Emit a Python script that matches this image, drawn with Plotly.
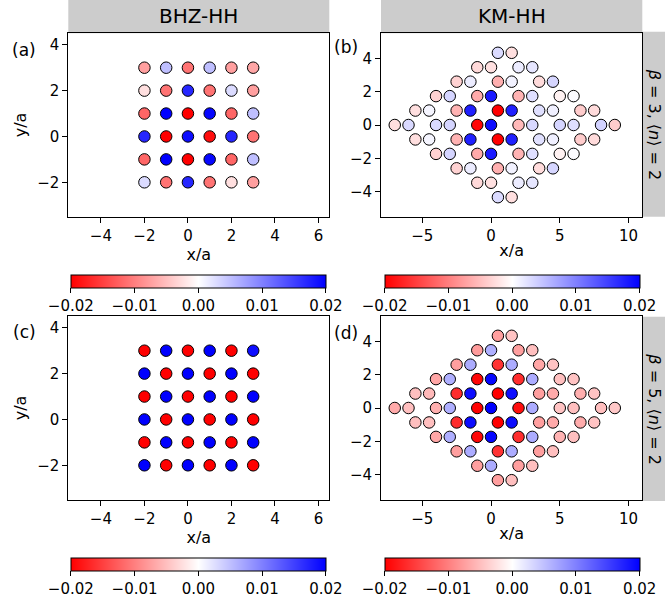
import plotly.graph_objects as go

W, H = 665, 602

# ---------------- data ----------------
# square lattice (BHZ)
sq_x = [-2, -1, 0, 1, 2, 3]
sq_y = [3, 2, 1, 0, -1, -2]

bhz_beta3 = [
    [-0.0075, 0.0050, -0.0110, 0.0050, -0.0075, -0.0070],
    [-0.0025, -0.0110, 0.0170, -0.0110, 0.0028, -0.0075],
    [-0.0120, 0.0200, -0.0200, 0.0195, -0.0120, 0.0050],
    [0.0170, -0.0200, 0.0190, -0.0190, 0.0170, -0.0110],
    [-0.0120, 0.0200, -0.0200, 0.0195, -0.0120, 0.0050],
    [0.0028, -0.0110, 0.0170, -0.0110, -0.0025, -0.0075],
]
bhz_beta5 = [
    [-0.0200, 0.0200, -0.0200, 0.0200, -0.0200, 0.0190],
    [0.0200, -0.0200, 0.0200, -0.0200, 0.0200, -0.0200],
    [-0.0200, 0.0200, -0.0200, 0.0200, -0.0200, 0.0200],
    [0.0200, -0.0200, 0.0200, -0.0200, 0.0200, -0.0200],
    [-0.0200, 0.0200, -0.0200, 0.0200, -0.0200, 0.0200],
    [0.0200, -0.0200, 0.0200, -0.0200, 0.0200, -0.0200],
]

# honeycomb lattice (KM): row heights and site x positions per row
hc_y = [4.330, 3.464, 2.598, 1.732, 0.866, 0.0, -0.866, -1.732, -2.598, -3.464, -4.330]
hc_x = [
    [0.5, 1.5],
    [-1, 0, 2, 3],
    [-2.5, -1.5, 0.5, 1.5, 3.5, 4.5],
    [-4, -3, -1, 0, 2, 3, 5, 6],
    [-5.5, -4.5, -2.5, -1.5, 0.5, 1.5, 3.5, 4.5, 6.5, 7.5],
    [-7, -6, -4, -3, -1, 0, 2, 3, 5, 6, 8, 9],
    [-5.5, -4.5, -2.5, -1.5, 0.5, 1.5, 3.5, 4.5, 6.5, 7.5],
    [-4, -3, -1, 0, 2, 3, 5, 6],
    [-2.5, -1.5, 0.5, 1.5, 3.5, 4.5],
    [-1, 0, 2, 3],
    [0.5, 1.5],
]

km_beta3 = [
    [0.0028, -0.0025],
    [-0.0030, -0.0024, 0.0015, 0.0020],
    [-0.0035, 0.0015, -0.0063, 0.0010, -0.0028, 0.0032],
    [-0.0035, 0.0033, -0.0067, 0.0180, -0.0060, 0.0025, -0.0010, 0.0003],
    [-0.0025, 0.0008, -0.0060, 0.0175, -0.0200, 0.0175, 0.0024, 0.0012, -0.0040, -0.0028],
    [-0.0025, 0.0030, 0.0030, 0.0033, -0.0195, 0.0190, -0.0055, 0.0030, 0.0033, 0.0025, 0.0035, -0.0040],
    [-0.0025, 0.0008, -0.0060, 0.0175, -0.0200, 0.0175, 0.0024, 0.0012, -0.0040, -0.0028],
    [-0.0035, 0.0033, -0.0067, 0.0180, -0.0060, 0.0025, -0.0010, 0.0003],
    [-0.0035, 0.0015, -0.0063, 0.0010, -0.0028, 0.0032],
    [-0.0030, -0.0024, 0.0015, 0.0020],
    [0.0028, -0.0025],
]
km_beta5 = [
    [-0.0075, -0.0047],
    [-0.0078, 0.0063, -0.0075, -0.0050],
    [-0.0075, 0.0065, -0.0160, 0.0065, -0.0070, -0.0047],
    [-0.0070, 0.0063, -0.0195, 0.0195, -0.0165, 0.0065, -0.0050, -0.0047],
    [-0.0050, -0.0055, -0.0165, 0.0190, -0.0200, 0.0190, -0.0075, -0.0067, -0.0063, -0.0047],
    [-0.0067, -0.0050, -0.0063, 0.0063, -0.0200, 0.0200, -0.0190, 0.0065, -0.0047, -0.0050, -0.0050, -0.0043],
    [-0.0050, -0.0050, -0.0165, 0.0190, -0.0200, 0.0190, -0.0075, -0.0067, -0.0065, -0.0047],
    [-0.0070, 0.0063, -0.0195, 0.0195, -0.0165, 0.0065, -0.0060, -0.0050],
    [-0.0075, 0.0065, -0.0160, 0.0065, -0.0075, -0.0050],
    [-0.0075, 0.0065, -0.0075, -0.0050],
    [-0.0075, -0.0050],
]

col_titles = ["BHZ-HH", "KM-HH"]
row_titles = ["<i>β</i> = 3, ⟨<i>n</i>⟩ = 2", "<i>β</i> = 5, ⟨<i>n</i>⟩ = 2"]
panel_labels = ["(a)", "(b)", "(c)", "(d)"]
cbar_ticks = [-0.02, -0.01, 0.00, 0.01, 0.02]
vmin, vmax = -0.02, 0.02

bwr_r = [[0.0, "rgb(255,0,0)"], [0.5, "rgb(255,255,255)"], [1.0, "rgb(0,0,255)"]]


def flatten_square(vals):
    xs, ys, cs = [], [], []
    for j, yv in enumerate(sq_y):
        for i, xv in enumerate(sq_x):
            xs.append(xv); ys.append(yv); cs.append(vals[j][i])
    return xs, ys, cs


def flatten_hc(vals):
    xs, ys, cs = [], [], []
    for j, yv in enumerate(hc_y):
        for i, xv in enumerate(hc_x[j]):
            xs.append(xv); ys.append(yv); cs.append(vals[j][i])
    return xs, ys, cs


# ---------------- layout geometry (pixels) ----------------
def px(x):
    return x / W


def py(y):
    return 1 - y / H


cols = [(68.3, 329.3), (381.0, 642.3)]
rows = [(33.3, 216.7), (316.3, 499.7)]

fig = go.Figure()

datasets = [flatten_square(bhz_beta3), flatten_hc(km_beta3),
            flatten_square(bhz_beta5), flatten_hc(km_beta5)]

font = "DejaVu Sans"
marker_size = 11.5

for k, (xs, ys, cs) in enumerate(datasets):
    n = k + 1
    sfx = "" if n == 1 else str(n)
    fig.add_trace(go.Scatter(
        x=xs, y=ys, mode="markers",
        xaxis="x" + sfx, yaxis="y" + sfx,
        marker=dict(size=marker_size, color=cs, coloraxis="coloraxis" + sfx,
                    line=dict(color="black", width=1)),
        showlegend=False, hoverinfo="x+y",
    ))

axis_common = dict(showline=True, mirror=True, linecolor="black", linewidth=1,
                   ticks="outside", ticklen=5, tickwidth=1, tickcolor="black",
                   showgrid=False, zeroline=False,
                   tickfont=dict(family=font, size=15, color="black"))

for k in range(4):
    r, c = divmod(k, 2)
    n = k + 1
    sfx = "" if n == 1 else str(n)
    xd = [px(cols[c][0]), px(cols[c][1])]
    yd = [py(rows[r][1]), py(rows[r][0])]
    if c == 0:
        xr, yr = [-5.5, 6.5], [-3.5, 4.5]
        xt, yt = [-4, -2, 0, 2, 4, 6], [-2, 0, 2, 4]
    else:
        xr, yr = [-8.0, 11.0], [-5.5, 5.5]
        xt, yt = [-5, 0, 5, 10], [-4, -2, 0, 2, 4]
    fig.layout["xaxis" + sfx] = dict(axis_common, domain=xd, range=xr, tickvals=xt,
                                     anchor="y" + sfx,
                                     title=dict(text="x/a", standoff=1,
                                                font=dict(family=font, size=16, color="black")))
    ytitle = dict(text="y/a", standoff=6,
                  font=dict(family=font, size=16, color="black")) if c == 0 else None
    ydict = dict(axis_common, domain=yd, range=yr, tickvals=yt, anchor="x" + sfx)
    if ytitle:
        ydict["title"] = ytitle
    fig.layout["yaxis" + sfx] = ydict

    # colorbar
    cb_top = [275.0, 558.0][r]
    cb_x = [(71.0 + 325.7) / 2, (384.3 + 640.0) / 2][c]
    fig.layout["coloraxis" + sfx] = dict(
        cmin=vmin, cmax=vmax, colorscale=bwr_r,
        colorbar=dict(orientation="h", x=px(cb_x), xanchor="center",
                      y=py(cb_top), yanchor="top",
                      len=255, lenmode="pixels", thickness=13, thicknessmode="pixels",
                      tickvals=cbar_ticks, tickformat=".2f", ticks="outside",
                      ticklen=5, tickcolor="black",
                      tickfont=dict(family=font, size=15, color="black"),
                      outlinewidth=1, outlinecolor="black", xpad=0, ypad=0,
                      borderwidth=0))

shapes = []
annotations = []
gray = "#cccccc"
# column header strips
for c in range(2):
    shapes.append(dict(type="rect", xref="paper", yref="paper",
                       x0=px(cols[c][0]), x1=px(cols[c][1]), y0=py(rows[0][0]), y1=1.0,
                       fillcolor=gray, line=dict(width=0), layer="below"))
    annotations.append(dict(text=col_titles[c], xref="paper", yref="paper",
                            x=px((cols[c][0] + cols[c][1]) / 2), y=py(16),
                            xanchor="center", yanchor="middle", showarrow=False,
                            font=dict(family=font, size=20, color="black")))
# row strips on the right
strip_y = [(31.7, 216.7), (316.7, 501.0)]
for r in range(2):
    shapes.append(dict(type="rect", xref="paper", yref="paper",
                       x0=px(642.7), x1=1.02, y0=py(strip_y[r][1]), y1=py(strip_y[r][0]),
                       fillcolor=gray, line=dict(width=0), layer="below"))
    annotations.append(dict(text=row_titles[r], xref="paper", yref="paper",
                            x=px(654.5), y=py((strip_y[r][0] + strip_y[r][1]) / 2),
                            xanchor="center", yanchor="middle", showarrow=False,
                            textangle=90,
                            font=dict(family=font, size=16, color="black")))
# panel labels
label_pos = [(24, 50), (346.5, 47), (24, 332), (346.5, 333)]
for k, (lx, ly) in enumerate(label_pos):
    annotations.append(dict(text=panel_labels[k], xref="paper", yref="paper",
                            x=px(lx), y=py(ly), xanchor="center", yanchor="middle",
                            showarrow=False,
                            font=dict(family=font, size=17, color="black")))

fig.update_layout(width=W, height=H, margin=dict(l=0, r=0, t=0, b=0),
                  paper_bgcolor="white", plot_bgcolor="white",
                  font=dict(family=font, color="black"),
                  shapes=shapes, annotations=annotations, showlegend=False)

fig.write_html("out.html", config={"displayModeBar": False},
               post_script="document.body.style.margin='0';document.body.style.overflow='hidden';")
